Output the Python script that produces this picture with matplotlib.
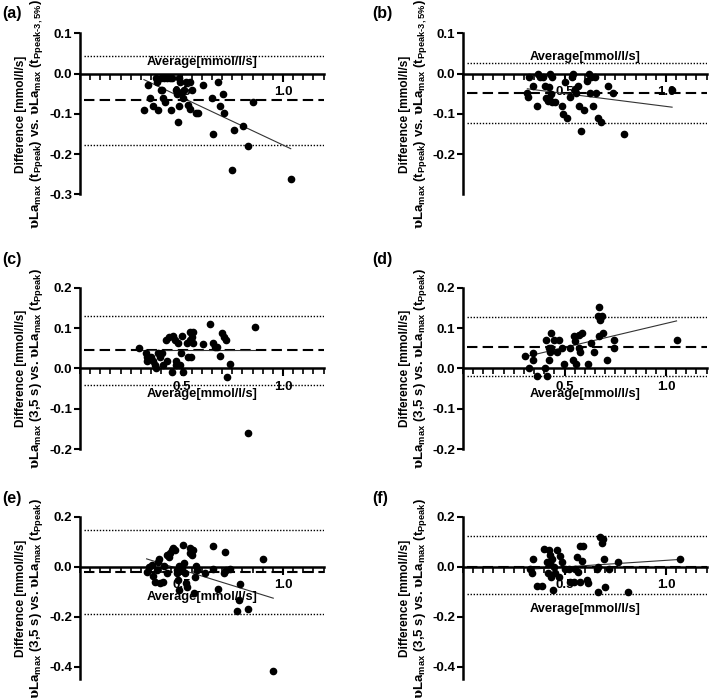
import matplotlib
matplotlib.use("Agg")
from matplotlib import pyplot as plt
from matplotlib.ticker import FixedLocator, MultipleLocator, FormatStrFormatter

plt.rcParams['font.family'] = ['Liberation Sans', 'DejaVu Sans']
plt.rcParams['font.weight'] = 'bold'
plt.rcParams['mathtext.fontset'] = 'custom'
plt.rcParams['mathtext.rm'] = 'Liberation Sans:bold'
plt.rcParams['mathtext.bf'] = 'Liberation Sans:bold'
plt.rcParams['mathtext.it'] = 'Liberation Sans:bold'
plt.rcParams['mathtext.sf'] = 'DejaVu Serif'
plt.rcParams['axes.unicode_minus'] = False

# ---- data (average, difference) ----
a_avg = [0.315, 0.336, 0.343, 0.361, 0.372, 0.380, 0.385, 0.397, 0.405, 0.410,
         0.421, 0.400, 0.415, 0.430, 0.445, 0.455, 0.446, 0.475, 0.480, 0.482,
         0.490, 0.488, 0.495, 0.500, 0.505, 0.510, 0.520, 0.540, 0.533, 0.544,
         0.569, 0.580, 0.605, 0.651, 0.654, 0.679, 0.692, 0.703, 0.710, 0.749,
         0.759, 0.803, 0.828, 0.852, 1.038, 0.552]
a_diff = [-0.091, -0.029, -0.060, -0.080, -0.010, -0.020, -0.091, -0.040, -0.040, -0.060,
          -0.070, -0.010, -0.010, -0.010, -0.010, -0.010, -0.091, -0.040, -0.050, -0.120,
          -0.080, -0.010, -0.020, -0.045, -0.060, -0.040, -0.020, -0.021, -0.079, -0.089,
          -0.099, -0.099, -0.029, -0.060, -0.151, -0.021, -0.080, -0.050, -0.099, -0.240,
          -0.141, -0.131, -0.180, -0.070, -0.261, -0.040]

b_avg = [0.327, 0.317, 0.322, 0.343, 0.363, 0.371, 0.379, 0.396, 0.404, 0.410,
         0.418, 0.425, 0.440, 0.432, 0.429, 0.437, 0.425, 0.453, 0.486, 0.491,
         0.502, 0.514, 0.527, 0.535, 0.540, 0.552, 0.557, 0.565, 0.573, 0.581,
         0.598, 0.609, 0.621, 0.626, 0.631, 0.642, 0.650, 0.655, 0.663, 0.680,
         0.716, 0.737, 0.795, 1.030]
b_diff = [-0.009, -0.049, -0.059, -0.030, -0.080, 0.000, -0.009, -0.009, -0.030, -0.060,
          -0.068, -0.060, -0.070, -0.050, 0.000, -0.009, -0.034, -0.071, -0.080, -0.100,
          -0.022, -0.110, -0.059, -0.009, 0.000, -0.038, -0.049, -0.030, -0.080, -0.142,
          -0.090, -0.019, 0.000, -0.049, -0.009, -0.080, -0.009, -0.049, -0.110, -0.121,
          -0.030, -0.049, -0.150, -0.041]

c_avg = [0.292, 0.325, 0.329, 0.332, 0.348, 0.358, 0.369, 0.374, 0.386, 0.394,
         0.402, 0.410, 0.424, 0.427, 0.440, 0.452, 0.456, 0.468, 0.473, 0.473,
         0.484, 0.493, 0.498, 0.501, 0.509, 0.525, 0.534, 0.542, 0.542, 0.545,
         0.555, 0.558, 0.550, 0.604, 0.640, 0.653, 0.665, 0.673, 0.690, 0.698,
         0.709, 0.719, 0.722, 0.739, 0.862, 0.826]
c_diff = [0.050, 0.039, 0.029, 0.019, 0.029, 0.019, 0.008, 0.000, 0.039, 0.029,
          0.039, 0.008, 0.070, 0.019, 0.078, -0.008, 0.080, 0.070, 0.019, 0.008,
          0.062, 0.008, 0.039, 0.080, -0.008, 0.062, 0.029, 0.091, 0.070, 0.029,
          0.062, 0.091, 0.078, 0.060, 0.110, 0.062, 0.054, 0.054, 0.030, 0.087,
          0.078, 0.070, -0.021, 0.011, 0.102, -0.160]

d_avg = [0.307, 0.324, 0.345, 0.345, 0.365, 0.405, 0.410, 0.413, 0.422, 0.422,
         0.430, 0.435, 0.435, 0.450, 0.463, 0.471, 0.487, 0.499, 0.528, 0.541,
         0.545, 0.553, 0.558, 0.569, 0.569, 0.586, 0.578, 0.615, 0.630, 0.643,
         0.663, 0.672, 0.676, 0.684, 0.672, 0.689, 0.708, 0.745, 0.745, 1.052]
d_diff = [0.031, 0.000, 0.039, 0.021, -0.019, 0.000, 0.070, -0.019, 0.021, 0.050,
          0.041, 0.088, 0.050, 0.070, 0.041, 0.070, 0.050, 0.011, 0.050, 0.021,
          0.080, 0.068, 0.011, 0.050, 0.083, 0.088, 0.041, 0.011, 0.062, 0.041,
          0.130, 0.151, 0.120, 0.130, 0.080, 0.088, 0.021, 0.070, 0.050, 0.070]

e_avg = [0.328, 0.341, 0.353, 0.358, 0.369, 0.378, 0.386, 0.391, 0.394, 0.407,
         0.414, 0.427, 0.430, 0.440, 0.443, 0.452, 0.460, 0.468, 0.476, 0.478,
         0.484, 0.489, 0.501, 0.509, 0.512, 0.517, 0.522, 0.542, 0.542, 0.550,
         0.558, 0.567, 0.571, 0.575, 0.616, 0.657, 0.681, 0.714, 0.709, 0.719,
         0.788, 0.785, 0.775, 0.826, 0.900, 0.952, 0.529, 0.562, 0.657, 0.739,
         0.489]
e_diff = [-0.020, -0.003, 0.007, -0.037, -0.060, -0.013, 0.020, 0.029, -0.067, -0.060,
          0.003, 0.047, -0.027, 0.037, 0.056, 0.067, 0.073, 0.067, -0.013, -0.027,
          -0.053, 0.003, -0.010, 0.087, 0.013, -0.027, -0.067, 0.053, 0.073, 0.047,
          0.067, -0.040, 0.003, -0.013, -0.027, 0.083, -0.091, 0.060, -0.024, -0.013,
          -0.069, -0.133, -0.176, -0.171, 0.029, -0.417, -0.080, -0.107, -0.011, -0.011,
          -0.093]

f_avg = [0.332, 0.340, 0.345, 0.365, 0.389, 0.400, 0.414, 0.417, 0.422, 0.427,
         0.430, 0.438, 0.433, 0.443, 0.446, 0.454, 0.463, 0.471, 0.479, 0.487,
         0.504, 0.520, 0.528, 0.545, 0.553, 0.565, 0.561, 0.574, 0.577, 0.591,
         0.586, 0.613, 0.618, 0.667, 0.662, 0.676, 0.689, 0.684, 0.695, 0.667,
         0.700, 0.721, 0.766, 0.815, 1.069]
f_diff = [-0.011, -0.024, 0.029, -0.077, -0.077, 0.069, 0.020, -0.024, 0.067, 0.047,
          0.013, 0.029, -0.040, -0.093, 0.000, -0.024, 0.067, -0.040, 0.043, 0.020,
          -0.011, -0.011, -0.060, -0.060, -0.011, -0.021, 0.040, -0.060, 0.083, 0.083,
          0.024, -0.053, -0.067, 0.000, -0.011, 0.120, 0.109, 0.093, 0.029, -0.100,
          -0.083, -0.011, 0.020, -0.100, 0.029]

# bias (mean), upper and lower limits of agreement
bias = [-0.066, -0.049, 0.045, 0.054, -0.020, -0.003]
loa_upper = [0.043, 0.026, 0.130, 0.127, 0.147, 0.123]
loa_lower = [-0.176, -0.122, -0.040, -0.019, -0.188, -0.110]

# regression line: slope, intercept
reg_slope = [-0.237, -0.064, 0.000, 0.119, -0.252, 0.053]
reg_icpt = [0.0597, -0.0174, 0.045, -0.0074, 0.114, -0.0276]

panel_letters = ['(a)', '(b)', '(c)', '(d)', '(e)', '(f)']

label_top = (r'$\mathsf{\upsilon}$La$_{\mathbf{max}}$ (t$_{\mathbf{Ppeak}}$) vs. '
             r'$\mathsf{\upsilon}$La$_{\mathbf{max}}$ (t$_{\mathbf{Ppeak}\text{-}\mathbf{3,5\%}}$)')
label_low = (r'$\mathsf{\upsilon}$La$_{\mathbf{max}}$ (3,5 s) vs. '
             r'$\mathsf{\upsilon}$La$_{\mathbf{max}}$ (t$_{\mathbf{Ppeak}}$)')

avgs = [a_avg, b_avg, c_avg, d_avg, e_avg, f_avg]
diffs = [a_diff, b_diff, c_diff, d_diff, e_diff, f_diff]

W, H = 709, 698
fig = plt.figure(figsize=(W / 100, H / 100), dpi=100)

# axes boxes in pixels: left, top, width, height
lefts = [80, 463]
tops = [33.3, 287.7, 516.7]
heights = [161.2, 161.6, 162.5]
ylims = [(-0.3, 0.1), (-0.3, 0.1), (-0.2, 0.2), (-0.2, 0.2), (-0.45, 0.2), (-0.45, 0.2)]
yticks = [[-0.3, -0.2, -0.1, 0.0, 0.1], [-0.2, -0.1, 0.0, 0.1],
          [-0.2, -0.1, 0.0, 0.1, 0.2], [-0.2, -0.1, 0.0, 0.1, 0.2],
          [-0.4, -0.2, 0.0, 0.2], [-0.4, -0.2, 0.0, 0.2]]
xlabel_y = [0.82, 0.85, 0.345, 0.345, 0.504, 0.432]

for i in range(6):
    row, col = i // 2, i % 2
    l, t, h = lefts[col], tops[row], heights[row]
    ax = fig.add_axes([l / W, 1 - (t + h) / H, 243.6 / W, h / H])
    x = avgs[i]
    y = diffs[i]

    ax.hlines([loa_upper[i], loa_lower[i]], 0.02, 1.2, colors='black',
              linestyles=(0, (1, 1.2)), linewidth=1.0, zorder=2)
    ax.hlines(bias[i], 0.02, 1.2, colors='black', linestyles=(0, (5, 2.5)),
              linewidth=1.5, zorder=2)
    xs = [min(x), max(x)]
    ax.plot(xs, [reg_slope[i] * v + reg_icpt[i] for v in xs], color='#333333',
            linewidth=0.8, zorder=2)
    ax.plot(x, y, 'o', color='black', markersize=4.5, zorder=3, clip_on=False)

    ax.set_xlim(0, 1.2)
    ax.set_ylim(*ylims[i])
    ax.spines['right'].set_visible(False)
    ax.spines['top'].set_visible(False)
    ax.spines['bottom'].set_position(('data', 0))
    ax.spines['bottom'].set_linewidth(1.8)
    ax.spines['left'].set_linewidth(1.8)
    ax.spines['bottom'].set_zorder(2.6)

    ax.xaxis.set_major_locator(FixedLocator([0.5, 1.0]))
    ax.xaxis.set_minor_locator(MultipleLocator(0.05))
    ax.xaxis.set_major_formatter(FormatStrFormatter('%.1f'))
    ax.yaxis.set_major_locator(FixedLocator(yticks[i]))
    ax.yaxis.set_major_formatter(FormatStrFormatter('%.1f'))
    ax.tick_params(axis='x', which='major', length=6, width=1.5, pad=3, labelsize=9.5)
    ax.tick_params(axis='x', which='minor', length=4, width=1.2)
    ax.tick_params(axis='y', which='major', length=4, width=1.5, pad=1.5, labelsize=9.5)
    for lab in ax.get_xticklabels() + ax.get_yticklabels():
        lab.set_fontweight('bold')

    ax.text(0.5, xlabel_y[i], 'Average[mmol/l/s]', transform=ax.transAxes,
            ha='center', va='center', fontsize=9.3, fontweight='bold')

    # two-line y title: first line, then the longer second line
    ax.text(-0.244 if col == 0 else -0.24, 0.5, 'Difference [mmol/l/s]',
            transform=ax.transAxes, rotation=90, ha='center', va='center',
            fontsize=8.6, fontweight='bold')
    ax.text(-0.178 if col == 0 else -0.174, 0.5, label_top if row == 0 else label_low,
            transform=ax.transAxes, rotation=90, ha='center', va='center',
            fontsize=9.5, fontweight='bold')

    fig.text([2, 372][col] / W, 1 - [13.3, 260, 498.3][row] / H, panel_letters[i],
             ha='left', va='center', fontsize=11.5, fontweight='bold')

fig.savefig('out.png', dpi=100)
